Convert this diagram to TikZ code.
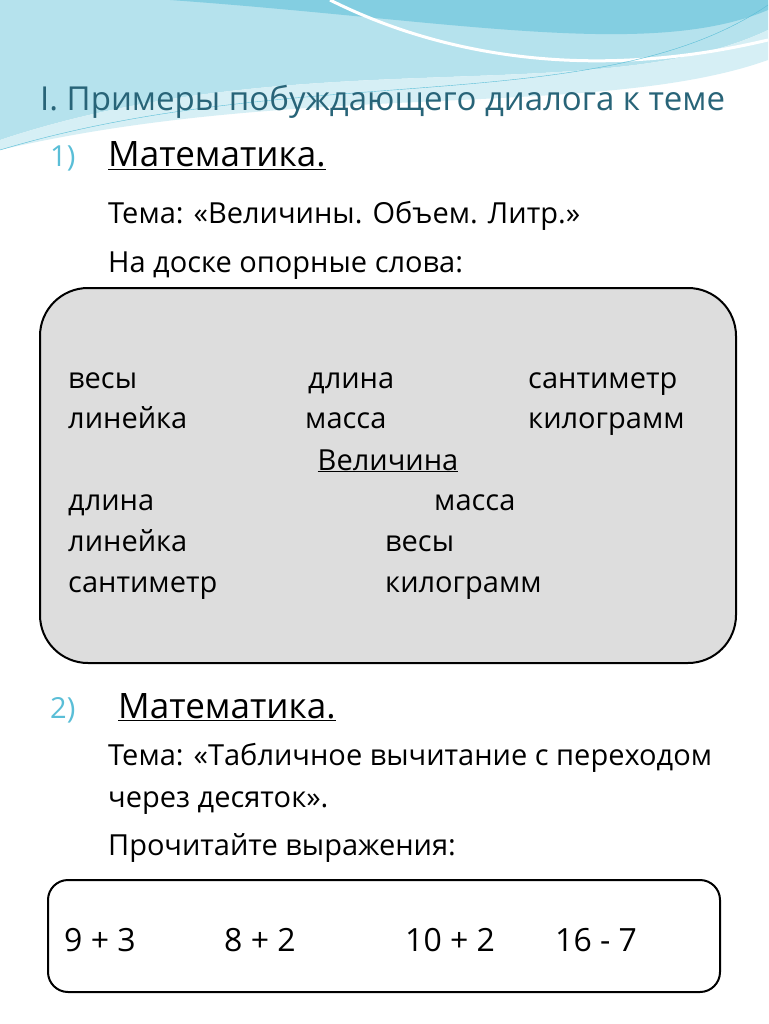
\documentclass[tikz,border=0pt]{standalone}
\usepackage{fontspec}
\setmainfont{Open Sans}
\usetikzlibrary{positioning}
\definecolor{teal}{RGB}{40,100,120}
\definecolor{lightblue}{RGB}{90,190,215}
\definecolor{boxgray}{RGB}{221,221,221}
\begin{document}
\begin{tikzpicture}[x=1pt,y=-1pt,
        word/.style={anchor=base west,inner sep=0pt,font=\fontsize{29}{34}\selectfont},
        expr/.style={anchor=base west,inner sep=0pt,font=\fontsize{32}{36}\selectfont},
        head/.style={anchor=base west,inner sep=0pt,font=\fontsize{35}{40}\selectfont},
        num/.style={anchor=base west,inner sep=0pt,text=lightblue,font=\fontsize{29}{34}\selectfont}]
    % background
    \useasboundingbox (0,0) rectangle (768,1024);
    \fill[white] (0,0) rectangle (768,1024);
    % waves
    \fill[lightblue!45] (0,0) -- (768,0) -- (768,30) .. controls (600,110) and (300,40) .. (0,140) -- cycle;
    \fill[lightblue!75] (170,0) -- (768,0) -- (768,10) .. controls (650,60) and (450,20) .. (170,0) -- cycle;
    \fill[lightblue!25] (0,140) .. controls (300,40) and (600,110) .. (768,30) -- (768,60) .. controls (600,120) and (300,80) .. (0,150) -- cycle;
    \draw[white,line width=3pt] (330,0) .. controls (450,60) and (600,80) .. (768,40);
    \draw[lightblue,thin] (0,150) .. controls (300,60) and (600,120) .. (768,5);

    % TEXT
    \node[anchor=base west,inner sep=0pt,text=teal,font=\fontsize{33}{38}\selectfont] (title) at (40,111) {I. Примеры побуждающего диалога к теме};
    \node[num] (n1) at (50,167) {1)};
    \node[head] (math1) at (108,167) {\underline{Математика.}};
    \node[word] (theme1) at (108,223) {Тема: «Величины. Объем. Литр.»};
    \node[word] (board) at (108,272) {На доске опорные слова:};

    % box 1
    \draw[fill=boxgray,line width=2pt,rounded corners=48pt] (40,288) rectangle (736,663);
    \node[word] (w1) at (68,388) {весы};
    \node[word] (w2) at (308,388) {длина};
    \node[word] (w3) at (528,388) {сантиметр};
    \node[word] (w4) at (68,428) {линейка};
    \node[word] (w5) at (305,428) {масса};
    \node[word] (w6) at (528,428) {килограмм};
    \node[word,anchor=base] (val) at (388,470) {\underline{Величина}};
    \node[word] (v1) at (68,510) {длина};
    \node[word] (v2) at (434,510) {масса};
    \node[word] (v3) at (68,551) {линейка};
    \node[word] (v4) at (385,551) {весы};
    \node[word] (v5) at (68,592) {сантиметр};
    \node[word] (v6) at (385,592) {килограмм};

    \node[num] (n2) at (50,718) {2)};
    \node[head] (math2) at (118,718) {\underline{Математика.}};
    \node[word] (theme2) at (108,765) {Тема: «Табличное вычитание с переходом};
    \node[word] (theme2b) at (108,807) {через десяток».};
    \node[word] (read) at (108,855) {Прочитайте выражения:};

    % box 2
    \draw[fill=white,line width=2pt,rounded corners=20pt] (48,880) rectangle (720,992);
    \node[expr] (e1) at (64,951) {9 + 3};
    \node[expr] (e2) at (224,951) {8 + 2};
    \node[expr] (e3) at (405,951) {10 + 2};
    \node[expr] (e4) at (555,951) {16 - 7};
\end{tikzpicture}
\end{document}
